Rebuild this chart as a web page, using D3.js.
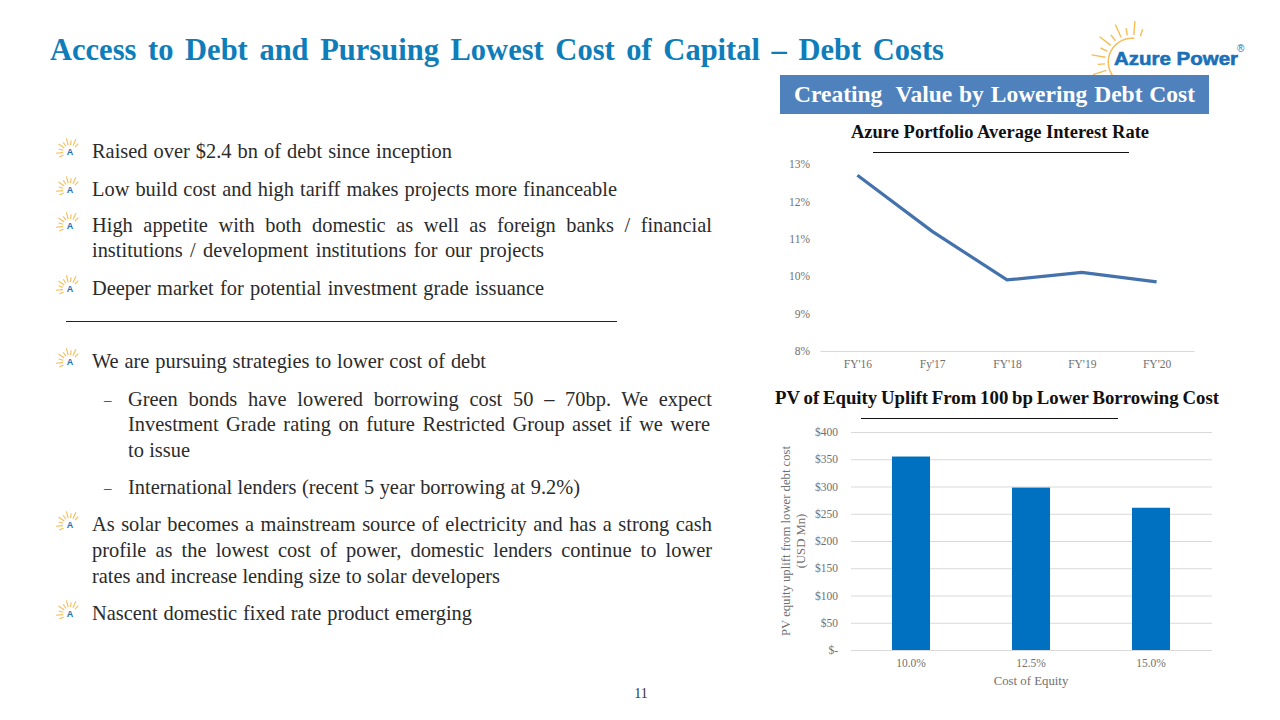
<!DOCTYPE html>
<html>
<head>
<meta charset="utf-8">
<script src="https://cdn.jsdelivr.net/npm/d3@7"></script>
<style>
html,body{margin:0;padding:0;background:#fff;}
svg{display:block;}
text{font-family:"Liberation Serif",serif;white-space:pre;}
</style>
</head>
<body>
<div id="slide"></div>
<script>
// line chart data
var rateYears = ["FY'16","Fy'17","FY'18","FY'19","FY'20"];
var rateValues = [12.7,11.2,9.9,10.1,9.85];
var rateTicks = [8,9,10,11,12,13];

// bar chart data
var equityCosts = ["10.0%","12.5%","15.0%"];
var upliftValues = [355,298,261];
var upliftTicks = [0,50,100,150,200,250,300,350,400];

// slide text: [text, left, right, baseline, bullet]
var bodyLines = [
    ["Raised over $2.4 bn of debt since inception",92,452,158,"sun"],
    ["Low build cost and high tariff makes projects more financeable",92,617,196,"sun"],
    ["High appetite with both domestic as well as foreign banks / financial",92,712,232,"sun"],
    ["institutions / development institutions for our projects",92,544,257,""],
    ["Deeper market for potential investment grade issuance",92,544,295,"sun"],
    ["We are pursuing strategies to lower cost of debt",92,486,368,"sun"],
    ["Green bonds have lowered borrowing cost 50 \u2013 70bp. We expect",128,712,406,"dash"],
    ["Investment Grade rating on future Restricted Group asset if we were",128,710,431,""],
    ["to issue",128,190,457,""],
    ["International lenders (recent 5 year borrowing at 9.2%)",128,580,494,"dash"],
    ["As solar becomes a mainstream source of electricity and has a strong cash",92,712,531,"sun"],
    ["profile as the lowest cost of power, domestic lenders continue to lower",92,712,557,""],
    ["rates and increase lending size to solar developers",92,500,583,""],
    ["Nascent domestic fixed rate product emerging",92,472,620,"sun"]
];

var svg = d3.select("#slide").append("svg").attr("width",1280).attr("height",720);

// set the word gaps so a line fills the width it has on the slide
function fit(t,width){
    var n = t.text().split(" ").length-1;
    if(n > 0) t.attr("word-spacing",(width-t.node().getComputedTextLength())/n);
    return t;
}

function drawSun(g,cx,cy,r1,r2,sw,angles){
    g.selectAll("line.ray")
        .data(angles)
        .enter()
        .append("line")
        .attr("class","ray")
        .attr("x1",function(d){return cx+r1*Math.cos(d*Math.PI/180);})
        .attr("y1",function(d){return cy+r1*Math.sin(d*Math.PI/180);})
        .attr("x2",function(d,i){return cx+(i%2 ? r2 : r2*0.84)*Math.cos(d*Math.PI/180);})
        .attr("y2",function(d,i){return cy+(i%2 ? r2 : r2*0.84)*Math.sin(d*Math.PI/180);})
        .attr("stroke","#f5bd58")
        .attr("stroke-width",sw);
}

// title
fit(svg.append("text").attr("x",50).attr("y",60)
    .attr("font-size",30.5).attr("font-weight","bold").attr("fill","#0f7dba")
    .text("Access to Debt and Pursuing Lowest Cost of Capital \u2013 Debt Costs"),894);

// logo
var logo = svg.append("g");
drawSun(logo,1132,62,27,41,1.4,[-212,-198,-184,-170,-156,-142,-128,-114,-100,-86,-72]);
logo.append("path")
    .attr("d",d3.arc()({innerRadius:23,outerRadius:24.5,startAngle:-2.6,endAngle:0.1}))
    .attr("transform","translate(1132,62)")
    .attr("fill","#f5bd58");
logo.append("text").attr("x",1114).attr("y",65)
    .attr("font-size",19).attr("font-weight","bold").attr("fill","#1a70b8")
    .attr("stroke","#1a70b8").attr("stroke-width",0.6)
    .attr("textLength",124).attr("lengthAdjust","spacingAndGlyphs")
    .style("font-family","'Liberation Sans',sans-serif")
    .text("Azure Power");
logo.append("text").attr("x",1237).attr("y",52)
    .attr("font-size",10).attr("fill","#1a70b8")
    .style("font-family","'Liberation Sans',sans-serif")
    .text("\u00ae");

// banner
svg.append("rect").attr("x",780).attr("y",75).attr("width",429).attr("height",39).attr("fill","#4f81bd");
fit(svg.append("text").attr("x",794).attr("y",102)
    .attr("font-size",23.5).attr("font-weight","bold").attr("fill","#fff")
    .text("Creating  Value by Lowering Debt Cost"),401);

// left column
var rows = svg.selectAll("g.row").data(bodyLines).enter().append("g").attr("class","row");
rows.append("text")
    .attr("x",function(d){return d[1];})
    .attr("y",function(d){return d[3];})
    .attr("font-size",20.4)
    .attr("fill","#2b2b2b")
    .text(function(d){return d[0];})
    .each(function(d){fit(d3.select(this),d[2]-d[1]);});
rows.filter(function(d){return d[4]=="dash";}).append("text")
    .attr("x",104)
    .attr("y",function(d){return d[3]-1;})
    .attr("font-size",15)
    .attr("fill","#2b2b2b")
    .text("\u2013");
rows.filter(function(d){return d[4]=="sun";}).each(function(d){
    var g = d3.select(this);
    drawSun(g,70,d[3]-6,7,14,1.1,[-205,-185,-165,-145,-125,-105,-85,-65,-45]);
    g.append("text").attr("x",70).attr("y",d[3]-3)
        .attr("font-size",9).attr("font-weight","bold").attr("fill","#1a70b8")
        .attr("text-anchor","middle")
        .style("font-family","'Liberation Sans',sans-serif")
        .text("A");
});
svg.append("line").attr("x1",66).attr("x2",617).attr("y1",321.5).attr("y2",321.5).attr("stroke","#222").attr("stroke-width",1);

// page number
svg.append("text").attr("x",641).attr("y",698).attr("font-size",14).attr("text-anchor","middle").attr("fill","#333").text("11");

// line chart
fit(svg.append("text").attr("x",851).attr("y",138)
    .attr("font-size",18.5).attr("font-weight","bold").attr("fill","#111")
    .text("Azure Portfolio Average Interest Rate"),298);
svg.append("line").attr("x1",873).attr("x2",1129).attr("y1",152.5).attr("y2",152.5).attr("stroke","#111").attr("stroke-width",1);

var xRate = d3.scalePoint().domain(rateYears).range([820,1194]).padding(0.5);
var yRate = d3.scaleLinear().domain([8,13]).range([351,164]);

var rateY = svg.append("g").attr("transform","translate(820,0)")
    .call(d3.axisLeft(yRate).tickValues(rateTicks).tickSize(0).tickPadding(10).tickFormat(function(d){return d+"%";}));
rateY.select(".domain").remove();
var rateX = svg.append("g").attr("transform","translate(0,351)")
    .call(d3.axisBottom(xRate).tickSize(0).tickPadding(9));
rateX.select(".domain").attr("stroke","#d9d9d9");

svg.append("path")
    .datum(rateValues)
    .attr("fill","none")
    .attr("stroke","#4472ac")
    .attr("stroke-width",3.2)
    .attr("d",d3.line().x(function(d,i){return xRate(rateYears[i]);}).y(function(d){return yRate(d);}));

// bar chart
fit(svg.append("text").attr("x",775).attr("y",404)
    .attr("font-size",18.8).attr("font-weight","bold").attr("fill","#111")
    .text("PV of Equity Uplift From 100 bp Lower Borrowing Cost"),444);
svg.append("line").attr("x1",861).attr("x2",1118).attr("y1",418.5).attr("y2",418.5).attr("stroke","#111").attr("stroke-width",1);

var xUplift = d3.scaleBand().domain(equityCosts).range([851,1211]).paddingInner(0.683).paddingOuter(0.3415);
var yUplift = d3.scaleLinear().domain([0,400]).range([650,432]);

var upliftY = svg.append("g").attr("transform","translate(851,0)")
    .call(d3.axisLeft(yUplift).tickValues(upliftTicks).tickSize(-361).tickPadding(13)
        .tickFormat(function(d){return d==0 ? "$-" : "$"+d;}));
upliftY.select(".domain").remove();
upliftY.selectAll("line").attr("stroke","#d9d9d9");

svg.selectAll("rect.bar")
    .data(upliftValues)
    .enter()
    .append("rect")
    .attr("class","bar")
    .attr("x",function(d,i){return xUplift(equityCosts[i]);})
    .attr("y",function(d){return yUplift(d);})
    .attr("width",xUplift.bandwidth())
    .attr("height",function(d){return 650-yUplift(d);})
    .attr("fill","#0070c0");

var upliftX = svg.append("g").attr("transform","translate(0,650)")
    .call(d3.axisBottom(xUplift).tickSize(0).tickPadding(9));
upliftX.select(".domain").remove();

svg.selectAll(".tick text")
    .attr("font-size",11.5)
    .attr("fill","#707070")
    .style("font-family","'Liberation Serif',serif");

svg.append("text").attr("x",1031).attr("y",685).attr("text-anchor","middle")
    .attr("font-size",12.8).attr("fill","#707070").text("Cost of Equity");
svg.append("text").attr("transform","translate(790,541) rotate(-90)").attr("text-anchor","middle")
    .attr("font-size",12.7).attr("fill","#707070").text("PV equity uplift from lower debt cost");
svg.append("text").attr("transform","translate(805,541) rotate(-90)").attr("text-anchor","middle")
    .attr("font-size",12.7).attr("fill","#707070").text("(USD Mn)");
</script>
</body>
</html>
